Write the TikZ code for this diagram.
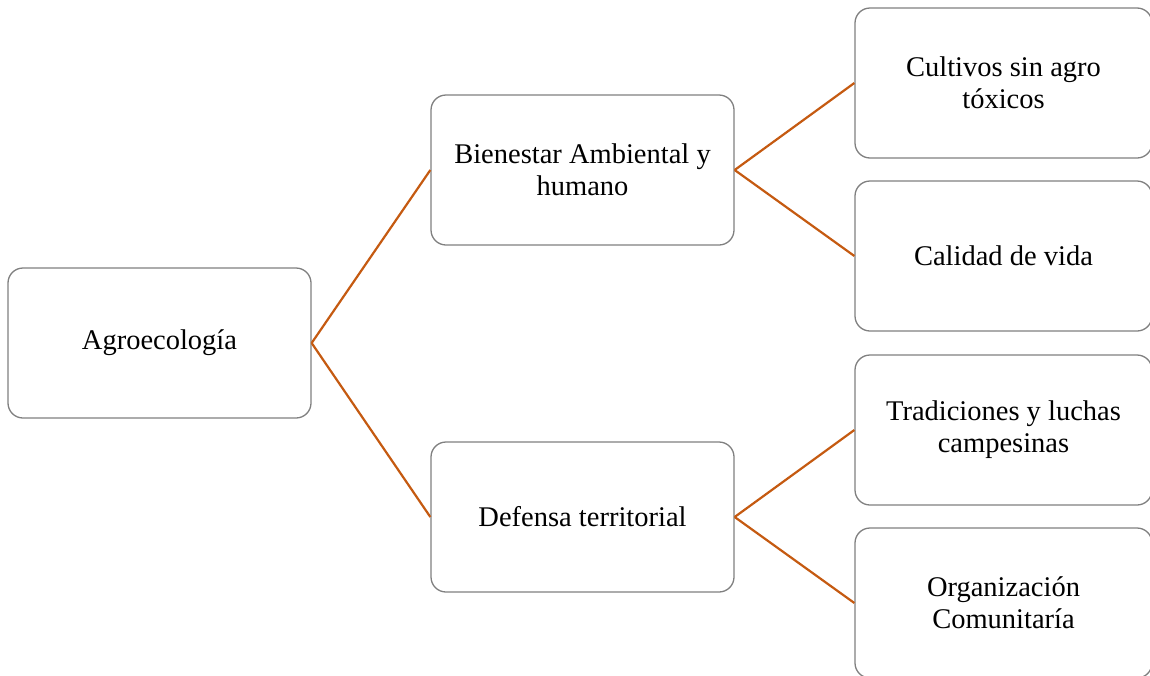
\documentclass[tikz,border=0pt]{standalone}
\usepackage{fontspec}
\setmainfont{Liberation Serif}
\definecolor{linea}{RGB}{197,90,17}
\definecolor{borde}{RGB}{128,128,128}
\begin{document}
\begin{tikzpicture}[x=1pt,y=-1pt,
  caja/.style={draw=borde,line width=1.3pt,rounded corners=15pt,
    minimum width=303pt,minimum height=150pt,text width=270pt,align=flush center,
    font=\fontsize{28.5}{32}\selectfont},
  rama/.style={draw=linea,line width=2.2pt}]
\clip (0,0) rectangle (1150,675);
\node[caja] (agro) at (159.5,343){Agroecología};
\node[caja] (bien) at (582.5,170){Bienestar Ambiental y humano};
\node[caja] (def) at (582.5,517){Defensa territorial};
\node[caja,minimum width=297pt] (cult) at (1003.5,83){Cultivos sin agro tóxicos};
\node[caja,minimum width=297pt] (cal) at (1003.5,256){Calidad de vida};
\node[caja,minimum width=297pt] (trad) at (1003.5,430){Tradiciones y luchas campesinas};
\node[caja,minimum width=297pt] (org) at (1003.5,603){Organización Comunitaría};
\draw[rama] (agro.east) -- (bien.west);
\draw[rama] (agro.east) -- (def.west);
\draw[rama] (bien.east) -- (cult.west);
\draw[rama] (bien.east) -- (cal.west);
\draw[rama] (def.east) -- (trad.west);
\draw[rama] (def.east) -- (org.west);
\end{tikzpicture}
\end{document}
